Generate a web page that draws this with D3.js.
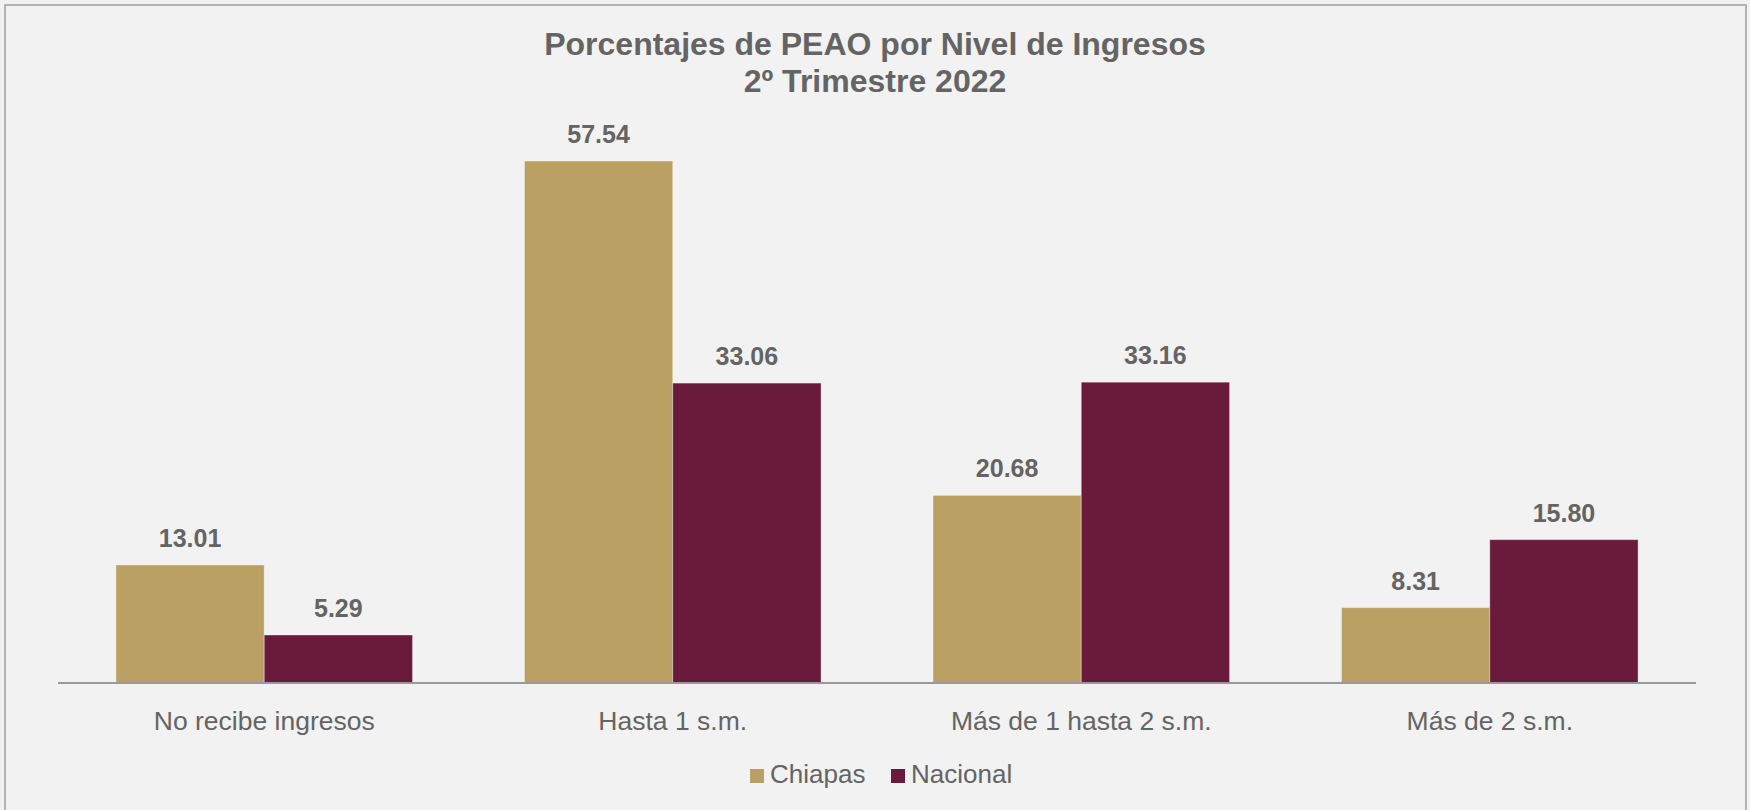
<!DOCTYPE html>
<html>
<head>
<meta charset="utf-8">
<script src="https://cdn.jsdelivr.net/npm/d3@7"></script>
<style>
  body { margin: 0; background: #f2f2f2; }
  svg text { font-family: "Liberation Sans", Arial, sans-serif; }
</style>
</head>
<body>
<div id="chart"></div>
<script>
// data
var categories = ['No recibe ingresos', 'Hasta 1 s.m.', 'Más de 1 hasta 2 s.m.', 'Más de 2 s.m.']
var series_names = ['Chiapas', 'Nacional']
var chiapas_values = [13.01, 57.54, 20.68, 8.31]
var nacional_values = [5.29, 33.06, 33.16, 15.80]
var title_lines = ['Porcentajes de PEAO por Nivel de Ingresos', '2º Trimestre 2022']

var colours = { 'Chiapas': '#baa163', 'Nacional': '#6a1a3a', text: '#646464', axis: '#999999' }

var W = 1750, H = 810
var svg = d3.select('#chart').append('svg')
  .attr('width', W)
  .attr('height', H)

// background + frame
svg.append('rect')
  .attr('x', 5).attr('y', 5)
  .attr('width', 1741).attr('height', H + 10)
  .style('fill', '#f2f2f2')
  .style('stroke', '#b3b3b3')
  .style('stroke-width', 2)

// title
svg.append('g').selectAll('text')
  .data(title_lines)
  .enter()
  .append('text')
  .attr('x', 875)
  .attr('y', (d, i) => 55 + i * 37)
  .attr('text-anchor', 'middle')
  .style('font-size', '32px')
  .style('font-weight', 'bold')
  .style('fill', colours.text)
  .text(d => d)

// scales
var xScale = d3.scaleBand()
  .domain(categories)
  .range([58, 1696])
  .paddingInner(0.274)
  .paddingOuter(0.1418)

var xSub = d3.scaleBand()
  .domain(series_names)
  .range([0, xScale.bandwidth()])

var yScale = d3.scaleLinear()
  .domain([0, 70])
  .range([683, 48])

// build rows
var dataset = []
categories.forEach(function(c, i) {
  dataset.push({ cat: c, series: 'Chiapas', value: chiapas_values[i] })
  dataset.push({ cat: c, series: 'Nacional', value: nacional_values[i] })
})

// bars
var bars = svg.append('g').classed('bars', true)
bars.selectAll('rect')
  .data(dataset)
  .enter()
  .append('rect')
  .attr('x', d => xScale(d.cat) + xSub(d.series))
  .attr('y', d => yScale(d.value))
  .attr('width', xSub.bandwidth())
  .attr('height', d => yScale(0) - yScale(d.value))
  .style('fill', d => colours[d.series])
  .style('stroke', 'rgba(255,255,255,0.35)')
  .style('stroke-width', 1)

// value labels
bars.selectAll('text')
  .data(dataset)
  .enter()
  .append('text')
  .attr('x', d => xScale(d.cat) + xSub(d.series) + xSub.bandwidth() / 2)
  .attr('y', d => yScale(d.value) - 18)
  .attr('text-anchor', 'middle')
  .style('font-size', '25px')
  .style('font-weight', 'bold')
  .style('fill', colours.text)
  .text(d => d3.format('.2f')(d.value))

// x axis
var xAxis = svg.append('g')
  .attr('transform', 'translate(0,' + yScale(0) + ')')
  .call(d3.axisBottom(xScale).tickSize(0).tickPadding(28).tickSizeOuter(0))

xAxis.select('.domain')
  .attr('d', 'M58,0H1696')
  .style('stroke', colours.axis)
  .style('stroke-width', 2)

xAxis.selectAll('.tick text')
  .style('font-family', '"Liberation Sans", Arial, sans-serif')
  .style('font-size', '26.5px')
  .style('fill', colours.text)

// legend
var legend_pos = [750, 891]
var legend = svg.append('g').selectAll('g')
  .data(series_names)
  .enter()
  .append('g')
  .attr('transform', (d, i) => 'translate(' + legend_pos[i] + ',769)')

legend.append('rect')
  .attr('width', 14)
  .attr('height', 14)
  .style('fill', d => colours[d])

legend.append('text')
  .attr('x', 20)
  .attr('y', 14)
  .style('font-size', '26px')
  .style('fill', colours.text)
  .text(d => d)
</script>
</body>
</html>
